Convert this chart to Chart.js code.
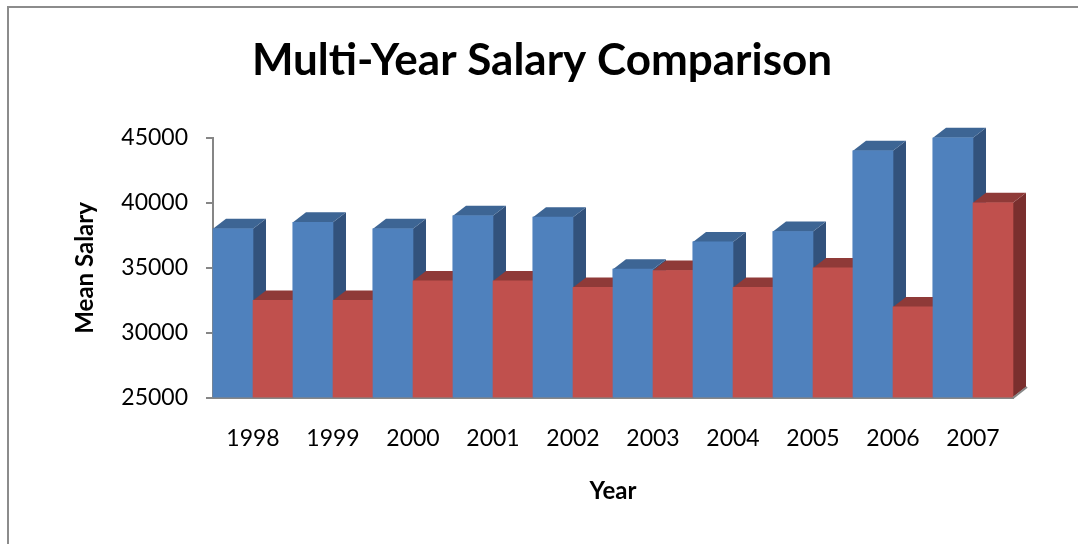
<!DOCTYPE html>
<html><head><meta charset="utf-8">
<script src="https://cdn.jsdelivr.net/npm/chart.js@4.4.0/dist/chart.umd.min.js"></script>
<style>
html,body{margin:0;padding:0;overflow:hidden;background:#fff;width:1078px;height:544px;}
#frame{position:absolute;left:7px;top:6px;width:1200px;height:700px;border-left:2.5px solid #8c8c8c;border-top:2.5px solid #8c8c8c;box-sizing:border-box;}
#wrap{position:absolute;left:0;top:0;width:1078px;height:544px;}
</style></head><body>
<div id="frame"></div>
<div id="wrap"><canvas id="c" width="1078" height="544"></canvas></div>
<script>
const years = ['1998','1999','2000','2001','2002','2003','2004','2005','2006','2007'];
const salaryA = [38000,38500,38000,39000,38900,34900,37000,37800,44000,45000];
const salaryB = [32500,32500,34000,34000,33500,34800,33500,35000,32000,40000];
const yMin = 25000, yMax = 45000, yStep = 5000;

const FONT = 'Lato, "Open Sans", sans-serif';
const AXIS = '#868686';
const faces = [
  {front:'#4F81BD', top:'#3D6594', side:'#32527C'},
  {front:'#C0504D', top:'#8F3A38', side:'#7A2F2E'}
];
const DX = 13, DY = 10;

const threeD = {
  id:'threeD',
  afterDatasetsDraw(chart){
    const ctx = chart.ctx;
    const metas = chart.data.datasets.map((d,i)=>chart.getDatasetMeta(i));
    const ca = chart.chartArea;
    ctx.save();
    for (let i=0;i<years.length;i++){
      metas.forEach((meta,di)=>{
        const el = meta.data[i];
        const p = el.getProps(['x','y','base','width'], true);
        const l = p.x - p.width/2, r = p.x + p.width/2;
        const b = Math.min(p.base, ca.bottom);
        const f = faces[di];
        ctx.fillStyle = f.side;
        ctx.beginPath();
        ctx.moveTo(r,p.y); ctx.lineTo(r+DX,p.y-DY); ctx.lineTo(r+DX,b-DY); ctx.lineTo(r,b); ctx.closePath(); ctx.fill();
        ctx.fillStyle = f.top;
        ctx.beginPath();
        ctx.moveTo(l,p.y); ctx.lineTo(l+DX,p.y-DY); ctx.lineTo(r+DX,p.y-DY); ctx.lineTo(r,p.y); ctx.closePath(); ctx.fill();
        el.draw(ctx);
      });
    }
    ctx.strokeStyle = AXIS; ctx.lineWidth = 2;
    ctx.beginPath();
    ctx.moveTo(ca.right, ca.bottom); ctx.lineTo(ca.right+DX+1, ca.bottom-DY-1);
    ctx.stroke();
    ctx.restore();
  }
};

new Chart(document.getElementById('c'), {
  type:'bar',
  data:{
    labels: years,
    datasets:[
      {label:'Series 1', data: salaryA, backgroundColor: faces[0].front, base: yMin, categoryPercentage:1, barPercentage:1},
      {label:'Series 2', data: salaryB, backgroundColor: faces[1].front, base: yMin, categoryPercentage:1, barPercentage:1}
    ]
  },
  options:{
    responsive:false,
    animation:false,
    layout:{padding:{left:71,right:65,top:0,bottom:38}},
    plugins:{
      legend:{display:false},
      tooltip:{enabled:false},
      title:{display:true, text:'Multi-Year Salary Comparison', color:'#000',
        font:{family:FONT, size:44, weight:'bold'}, padding:{top:34,bottom:51}}
    },
    scales:{
      x:{
        grid:{display:false, drawTicks:false},
        border:{display:true, color:AXIS, width:2},
        ticks:{color:'#000', font:{family:FONT,size:23}, padding:27},
        title:{display:true, text:'Year', color:'#000', font:{family:FONT,size:24,weight:'bold'}, padding:0},
        afterFit(s){ s.height = 108; }
      },
      y:{
        min:yMin, max:yMax,
        ticks:{stepSize:yStep, color:'#000', font:{family:FONT,size:23}, padding:18,
          callback:(v)=>String(v)},
        grid:{drawOnChartArea:false, drawTicks:true, tickLength:7, color:AXIS, lineWidth:2},
        border:{display:true, color:AXIS, width:2},
        title:{display:true, text:'Mean Salary', color:'#000', font:{family:FONT,size:24,weight:'bold'}, padding:0},
        afterFit(s){ s.width = 142; }
      }
    }
  },
  plugins:[threeD]
});
</script>
</body></html>
